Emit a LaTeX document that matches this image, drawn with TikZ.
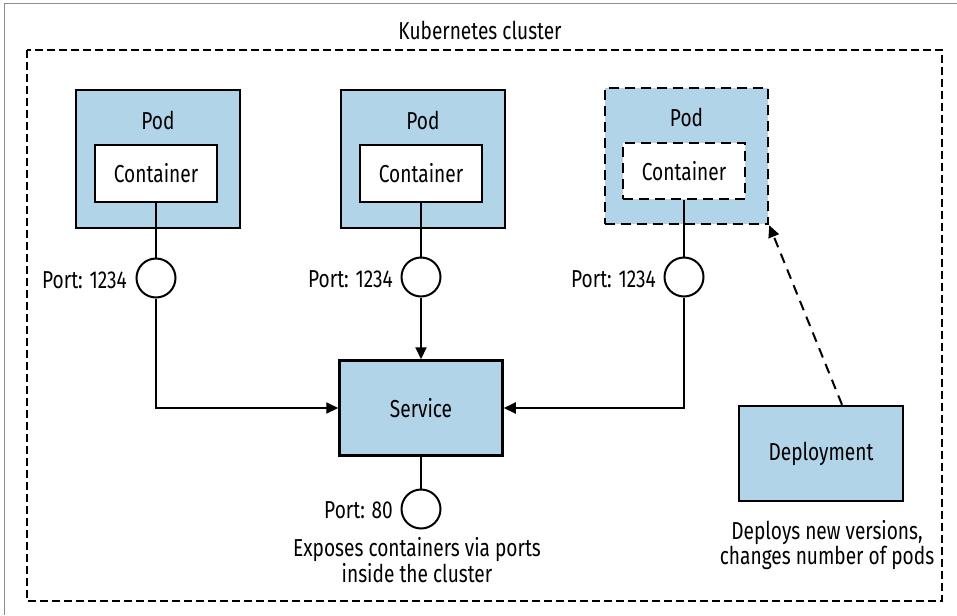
\documentclass[tikz,border=0pt]{standalone}
\usepackage{fontspec}
\setmainfont{Fira Sans}[FakeStretch=0.78]
\usetikzlibrary{arrows.meta}
\definecolor{podblue}{RGB}{178,212,232}
\definecolor{framegray}{RGB}{140,140,140}
\begin{document}
\begin{tikzpicture}[x=1pt,y=-1pt,
  txt/.style={font=\fontsize{24.5}{23.5}\selectfont, inner sep=0pt},
  podbox/.style={draw=black, line width=2.5pt, fill=podblue, rectangle, inner sep=0pt, minimum width=164pt, minimum height=138pt},
  contbox/.style={draw=black, line width=2.5pt, fill=white, rectangle, inner sep=0pt, minimum width=122pt, minimum height=57pt, font=\fontsize{24.5}{23.5}\selectfont},
  bluebox/.style={draw=black, line width=2.5pt, fill=podblue, rectangle, inner sep=0pt, minimum width=163pt, minimum height=95pt, font=\fontsize{24.5}{23.5}\selectfont},
  portc/.style={draw=black, line width=2pt, fill=white, circle, inner sep=0pt, minimum size=39pt},
  dashbox/.style={dash pattern=on 10pt off 6pt},
  conn/.style={draw=black, line width=2pt},
  arr/.style={conn, -{Triangle[length=12pt,width=11pt]}},
  darr/.style={conn, dash pattern=on 10pt off 7pt, -{Triangle[length=12pt,width=11pt]}}
]
\useasboundingbox (0,0) rectangle (957,615);
% outer frame (cropped)
\draw[framegray, line width=1pt] (4,615) -- (4,4) -- (957,4);
% title
\node[txt] (title) at (480,30) {Kubernetes cluster};
% cluster
\draw[black, line width=2pt, dash pattern=on 8pt off 4pt] (27,50) rectangle (942,601);

% Pod 1
\node[podbox] (pod1) at (158,159) {};
\node[txt] (pod1l) at (158,120) {Pod};
\node[contbox] (c1) at (156,173.5) {Container};
\node[portc] (p1) at (156,278) {};
\node[txt, anchor=east] (p1l) at (127,280) {Port: 1234};

% Pod 2
\node[podbox] (pod2) at (423,159) {};
\node[txt] (pod2l) at (423,120) {Pod};
\node[contbox] (c2) at (421,173.5) {Container};
\node[portc] (p2) at (421,277) {};
\node[txt, anchor=east] (p2l) at (393,279) {Port: 1234};

% Pod 3 (dashed)
\node[podbox, dashbox, minimum width=163pt, minimum height=136pt] (pod3) at (686.5,156) {};
\node[txt] (pod3l) at (686.5,117) {Pod};
\node[contbox, dashbox, minimum height=56pt] (c3) at (684,171) {Container};
\node[portc] (p3) at (684,277) {};
\node[txt, anchor=east] (p3l) at (656,279) {Port: 1234};

% Service
\node[bluebox] (svc) at (421,408) {Service};
\node[portc] (p4) at (421,509) {};
\node[txt, anchor=east] (p4l) at (393,510) {Port: 80};
\node[txt, align=center] (svccap) at (417,560) {Exposes containers via ports\\inside the cluster};

% Deployment
\node[bluebox, minimum width=164pt] (dep) at (821,453.5) {Deployment};
\node[txt, align=center] (depcap) at (827,545) {Deploys new versions,\\changes number of pods};

% connectors
\draw[conn] (c1.south) -- (p1.north);
\draw[conn] (c2.south) -- (p2.north);
\draw[conn] (c3.south) -- (p3.north);
\draw[arr] (p1.south) |- (svc.west);
\draw[arr] (p2.south) -- (svc.north);
\draw[arr] (p3.south) |- (svc.east);
\draw[conn] (svc.south) -- (p4.north);
\draw[darr] ([xshift=21pt]dep.north) -- (pod3.south east);
\end{tikzpicture}
\end{document}
